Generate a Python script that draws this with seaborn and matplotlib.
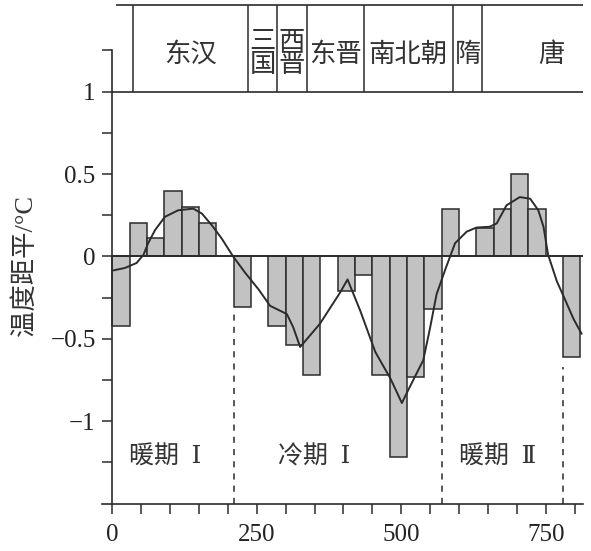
import numpy as np
import pandas as pd
import matplotlib
matplotlib.use("Agg")
import matplotlib.pyplot as plt
import seaborn as sns

# --- data ---
bar_mid_years = [15, 45, 75, 105, 135, 165, 225, 285, 315, 345,
                 405, 435, 465, 495, 525, 555, 585, 645, 675, 705, 735, 795]
bar_anomaly = [-0.42, 0.20, 0.11, 0.40, 0.30, 0.20, -0.31, -0.42, -0.54, -0.72,
               -0.21, -0.11, -0.72, -1.22, -0.73, -0.32, 0.29, 0.17, 0.29, 0.50, 0.29, -0.61]

curve_years = [2, 22, 42, 54, 62, 74, 91, 114, 140, 155, 172, 189, 209, 230, 253,
               273, 302, 313, 325, 359, 394, 407, 429, 455, 481, 501, 515, 538,
               550, 561, 576, 593, 613, 630, 653, 665, 682, 705, 723, 737, 746,
               754, 769, 783, 798, 812]
curve_anomaly = [-0.085, -0.07, -0.04, 0.01, 0.08, 0.16, 0.24, 0.28, 0.29, 0.26, 0.19,
                 0.11, 0.0, -0.10, -0.20, -0.30, -0.35, -0.43, -0.55, -0.41, -0.22,
                 -0.14, -0.33, -0.58, -0.74, -0.89, -0.79, -0.63, -0.43, -0.23, -0.08,
                 0.08, 0.15, 0.175, 0.18, 0.20, 0.31, 0.36, 0.35, 0.28, 0.18, 0.01,
                 -0.15, -0.26, -0.38, -0.47]

period_bounds = [210, 570, 780]
period_bound_tops = [-0.35, -0.35, -0.67]
period_names = ["暖期  Ⅰ", "冷期  Ⅰ", "暖期  Ⅱ"]
period_label_x = [91, 349, 666]

dynasty_edges = [35, 235, 285, 337, 435, 590, 640]
dynasty_names = ["东汉", "三\n国", "西\n晋", "东晋", "南北朝", "隋", "唐"]
dynasty_label_x = [136, 260, 311, 386, 512, 615, 760]

LINE = "#2b2b2b"
SERIF_CJK = ["Liberation Serif", "DejaVu Serif", "Noto Sans CJK SC"]

sns.set_style("ticks")
plt.rcParams["font.family"] = SERIF_CJK
plt.rcParams["axes.unicode_minus"] = True

fig = plt.figure(figsize=(5.91, 5.51), dpi=100)
ax = fig.add_axes([0.1724, 0.0862, 0.8147, 0.9074])

bars = pd.DataFrame({"year": bar_mid_years, "anomaly": bar_anomaly})
sns.barplot(data=bars, x="year", y="anomaly", native_scale=True, width=1,
            color="#c2c2c2", saturation=1, edgecolor=LINE, linewidth=1.1,
            errorbar=None, ax=ax)

ax.hlines(0, 0, 815, color=LINE, lw=1.4, zorder=3)

curve = pd.DataFrame({"year": curve_years, "anomaly": curve_anomaly})
sns.lineplot(data=curve, x="year", y="anomaly", color=LINE, lw=1.4, ax=ax, zorder=4)

# period boundaries and names
ax.vlines(period_bounds, -1.5, period_bound_tops, colors=LINE, lw=1.1,
          linestyles=(0, (4, 4)))
for x, name in zip(period_label_x, period_names):
    ax.text(x, -1.22, name, ha="center", va="center", fontsize=18,
            color="#333333", family=SERIF_CJK)

# dynasty strip
ax.hlines(1.0, 0, 815, color=LINE, lw=1.2, clip_on=False)
ax.hlines(1.527, 6, 815, color=LINE, lw=1.2, clip_on=False)
ax.vlines(dynasty_edges, 1.0, 1.527, colors=LINE, lw=1.1, clip_on=False)
for x, name in zip(dynasty_label_x, dynasty_names):
    ax.text(x, 1.225, name, ha="center", va="center", fontsize=19,
            linespacing=1.0, color="#333333", family=SERIF_CJK)

# axes
ax.set_xlim(-18, 815)
ax.set_ylim(-1.5, 1.535)
ax.spines["top"].set_visible(False)
ax.spines["right"].set_visible(False)
ax.spines["left"].set_position(("data", 0))
ax.spines["left"].set_bounds(-1.5, 1.25)
for s in ("left", "bottom"):
    ax.spines[s].set_color(LINE)
    ax.spines[s].set_linewidth(1.2)

yt = np.arange(-1.25, 1.26, 0.25)
ax.set_yticks(yt)
ylabels = {-1.0: "−1", -0.5: "−0.5", 0.0: "0", 0.5: "0.5", 1.0: "1"}
ax.set_yticklabels([ylabels.get(round(v, 2), "") for v in yt])
xt = np.arange(0, 801, 50)
ax.set_xticks(xt)
ax.set_xticklabels([str(v) if v % 250 == 0 else "" for v in xt])
ax.tick_params(axis="both", direction="out", length=7, width=1.1, color=LINE,
               labelsize=18, labelcolor="#222222")
ax.tick_params(axis="y", pad=5)
ax.tick_params(axis="x", pad=8)
ax.set_xlabel("")
ax.set_ylabel("")

fig.text(25 / 591, 1 - 265 / 551, "温度距平/°C", rotation=90, ha="center",
         va="center", fontsize=19, color="#333333", family=SERIF_CJK)

fig.savefig("out.png", dpi=100)
